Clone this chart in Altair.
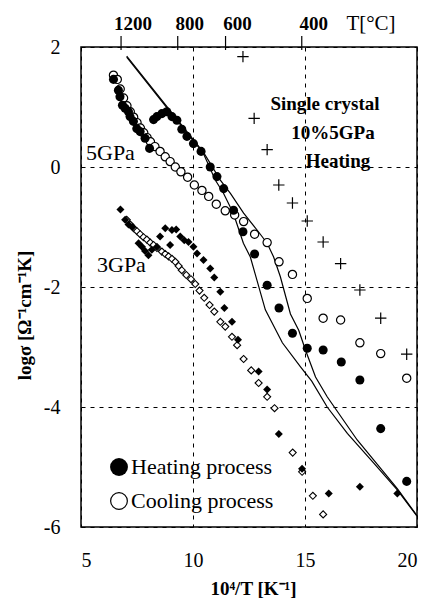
import altair as alt
import pandas as pd

FONT = "Liberation Serif"

# ---- data ----
heat5_x = [6.45, 6.67, 6.74, 6.85, 6.97, 7.12, 7.19, 7.34, 7.49, 7.64, 7.86, 8.06,
           8.24, 8.39, 8.61, 8.83, 9.06, 9.28, 9.5, 9.73, 10.02, 10.36, 10.77, 11.07,
           11.37, 11.81, 12.23, 12.75, 13.31, 13.84, 14.44, 15.1, 15.81, 16.62, 17.45,
           18.38, 19.54]
heat5_y = [1.46, 1.28, 1.17, 1.03, 0.98, 0.92, 0.84, 0.76, 0.64, 0.59, 0.48, 0.31,
           0.79, 0.84, 0.89, 0.92, 0.84, 0.78, 0.63, 0.51, 0.39, 0.26, 0.0, -0.16,
           -0.36, -0.72, -1.08, -1.45, -1.97, -2.35, -2.77, -3.02, -3.05, -3.25, -3.55,
           -4.36, -5.24]

cool5_x = [6.45, 6.62, 6.75, 6.9, 7.05, 7.2, 7.35, 7.5, 7.65, 7.8, 7.95, 8.1, 8.3,
           8.53, 8.76, 8.98, 9.21, 9.46, 9.76, 10.06, 10.4, 10.7, 11.04, 11.44, 11.86,
           12.26, 12.75, 13.31, 13.84, 14.44, 15.1, 15.81, 16.59, 17.45, 18.38, 19.54]
cool5_y = [1.53, 1.46, 1.3, 1.15, 1.02, 0.92, 0.83, 0.74, 0.65, 0.57, 0.49, 0.42, 0.34,
           0.26, 0.17, 0.09, 0.0, -0.08, -0.17, -0.3, -0.39, -0.49, -0.62, -0.73, -0.8,
           -0.91, -1.12, -1.26, -1.58, -1.79, -2.19, -2.52, -2.55, -2.93, -3.11, -3.52]

heat3_x = [6.76, 6.97, 7.12, 7.3, 7.57, 7.72, 7.86, 8.01, 8.16, 8.39, 8.53, 8.76, 8.98,
           9.06, 9.25, 9.43, 9.61, 9.8, 10.02, 10.18, 10.47, 10.77, 10.95, 11.22, 11.4,
           11.74, 12.01, 12.93, 13.31, 13.83, 14.87, 16.06, 17.45, 19.12]
heat3_y = [-0.71, -0.88, -0.96, -1.0, -1.27, -1.33, -1.4, -1.47, -1.38, -1.33, -1.16,
           -1.02, -1.3, -1.05, -1.04, -1.16, -1.22, -1.25, -1.33, -1.44, -1.55, -1.69,
           -1.84, -2.08, -2.35, -2.58, -2.88, -3.41, -3.71, -4.45, -5.03, -5.44, -5.33,
           -5.44]

cool3_x = [7.04, 7.2, 7.35, 7.5, 7.64, 7.79, 7.94, 8.09, 8.24, 8.39, 8.61, 8.76, 8.91,
           9.06, 9.21, 9.36, 9.5, 9.7, 9.91, 10.1, 10.29, 10.5, 10.74, 10.95, 11.22,
           11.44, 11.74, 11.97, 12.26, 12.6, 12.93, 13.31, 13.64, 14.45, 14.87, 15.35,
           15.81]
cool3_y = [-0.88, -0.96, -1.02, -1.07, -1.12, -1.17, -1.21, -1.26, -1.3, -1.35, -1.41,
           -1.45, -1.49, -1.53, -1.58, -1.65, -1.72, -1.8, -1.87, -1.95, -2.06, -2.18,
           -2.3, -2.41, -2.58, -2.66, -2.83, -2.97, -3.2, -3.39, -3.6, -3.83, -4.02,
           -4.76, -5.08, -5.48, -5.79]

cross_x = [12.23, 12.73, 13.31, 13.83, 14.44, 15.1, 15.81, 16.59, 17.45, 18.38, 19.54]
cross_y = [1.84, 0.81, 0.29, -0.3, -0.6, -0.9, -1.25, -1.61, -2.05, -2.52, -3.12]

lineA_x = [7.04, 9.21, 10.46, 11.0, 11.35, 11.8, 12.25, 12.56, 13.23, 13.99, 14.8,
           15.3, 15.99, 16.89, 18.08, 19.12, 20.0]
lineA_y = [1.83, 0.81, 0.23, -0.22, -0.43, -0.77, -1.27, -1.5, -2.38, -2.93, -3.33,
           -3.57, -4.0, -4.44, -4.94, -5.38, -5.82]
lineB_x = [7.04, 9.21, 10.46, 10.77, 11.22, 11.67, 12.26, 12.86, 13.31, 13.6, 13.9,
           14.35, 14.72, 15.02, 15.47, 15.99, 17.33, 19.12, 20.0]
lineB_y = [1.85, 0.83, 0.25, 0.06, -0.22, -0.44, -0.77, -1.05, -1.27, -1.5, -1.83,
           -2.45, -2.72, -3.05, -3.5, -3.83, -4.55, -5.36, -5.81]

top_temps_c = [1200, 800, 600, 400]
x_ticks = [5, 10, 15, 20]
y_ticks = [2, 0, -2, -4, -6]
legend_labels = ["Heating process", "Cooling process"]

# ---- scales / axes (same definition in every layer) ----
xs = alt.Scale(domain=[5, 20], nice=False, zero=False)
ys = alt.Scale(domain=[-6, 2], nice=False, zero=False)

axis_common = dict(
    grid=True, gridDash=[4, 5], gridColor="black", gridWidth=1, gridOpacity=1,
    domain=False, ticks=False, labelFont=FONT, labelFontSize=20, labelColor="black",
    titleFont=FONT, titleFontWeight="bold", titleColor="black",
)
x_axis = alt.Axis(
    values=x_ticks, labelPadding=23, title="10⁴/T [K⁻¹]", titleFontSize=19,
    titleX=172, titleY=61, titleBaseline="middle", titleAlign="center",
    **axis_common)
y_axis = alt.Axis(
    values=y_ticks, labelPadding=21, labelExpr="'' + datum.value",
    title="logσ [Ω⁻¹cm⁻¹K]", titleFontSize=19, titleX=-57, titleY=268,
    titleAngle=-90, titleBaseline="middle", titleAlign="center",
    **axis_common)

X = alt.X("x:Q", scale=xs, axis=x_axis, title="10⁴/T [K⁻¹]")
Y = alt.Y("y:Q", scale=ys, axis=y_axis, title="logσ [Ω⁻¹cm⁻¹K]")


def df(x, y):
    return pd.DataFrame({"x": x, "y": y})


lines_df = pd.concat([
    pd.DataFrame({"x": lineA_x, "y": lineA_y, "curve": "A", "i": range(len(lineA_x))}),
    pd.DataFrame({"x": lineB_x, "y": lineB_y, "curve": "B", "i": range(len(lineB_x))}),
])
lines = alt.Chart(lines_df).mark_line(color="black", strokeWidth=1.2).encode(
    x=X, y=Y, detail="curve:N", order="i:Q")

heat5 = alt.Chart(df(heat5_x, heat5_y)).mark_point(
    shape="circle", filled=True, color="black", size=82, opacity=1).encode(x=X, y=Y)
cool5 = alt.Chart(df(cool5_x, cool5_y)).mark_point(
    shape="circle", filled=True, fill="white", stroke="black", strokeWidth=1.2,
    size=68, opacity=1).encode(x=X, y=Y)
heat3 = alt.Chart(df(heat3_x, heat3_y)).mark_point(
    shape="diamond", filled=True, color="black", size=64, opacity=1).encode(x=X, y=Y)
cool3 = alt.Chart(df(cool3_x, cool3_y)).mark_point(
    shape="diamond", filled=True, fill="white", stroke="black", strokeWidth=1.1,
    size=50, opacity=1).encode(x=X, y=Y)
crosses = alt.Chart(df(cross_x, cross_y)).mark_point(
    shape="M-1,0L1,0M0,-1L0,1", filled=False, color="black", strokeWidth=1.2,
    size=130, opacity=1).encode(x=X, y=Y)

# ---- top temperature axis ----
top_df = pd.DataFrame({"T": top_temps_c})
top_df["x"] = 1e4 / (top_df["T"] + 273.15)
top_df["label"] = top_df["T"].astype(str)
top_ticks = alt.Chart(top_df).mark_rule(color="black", strokeWidth=1.2).encode(
    x=X, y=alt.value(-11), y2=alt.value(3))
top_labels = alt.Chart(top_df).mark_text(
    font=FONT, fontSize=19, fontWeight="bold", color="black", dx=12,
    align="center", baseline="middle").encode(x=X, y=alt.value(-23), text="label:N")
top_title = alt.Chart(pd.DataFrame({"t": ["T[°C]"]})).mark_text(
    font=FONT, fontSize=21, color="black", align="center", baseline="middle").encode(
    x=alt.value(290), y=alt.value(-23), text="t:N")


def label(text, x, y, size, weight="normal", align="left"):
    return alt.Chart(pd.DataFrame({"t": [text]})).mark_text(
        font=FONT, fontSize=size, fontWeight=weight, color="black",
        align=align, baseline="middle").encode(
        x=alt.value(x), y=alt.value(y), text="t:N")


ann = [
    label("5GPa", 5, 106, 22),
    label("3GPa", 16, 218, 22),
    label("Single crystal", 244, 57, 19, "bold", "center"),
    label("10%5GPa", 252, 86, 19, "bold", "center"),
    label("Heating", 257, 114, 19, "bold", "center"),
]

leg_heat_mark = alt.Chart(pd.DataFrame({"t": [legend_labels[0]]})).mark_point(
    shape="circle", filled=True, color="black", size=320, opacity=1).encode(
    x=alt.value(38), y=alt.value(420))
leg_cool_mark = alt.Chart(pd.DataFrame({"t": [legend_labels[1]]})).mark_point(
    shape="circle", filled=True, fill="white", stroke="black", strokeWidth=1.2,
    size=280, opacity=1).encode(x=alt.value(38), y=alt.value(454))
leg_heat_txt = label(legend_labels[0], 50, 420, 22)
leg_cool_txt = label(legend_labels[1], 50, 454, 22)

chart = alt.layer(
    lines, cool5, heat5, cool3, heat3, crosses,
    top_ticks, top_labels, top_title, *ann,
    leg_heat_mark, leg_cool_mark, leg_heat_txt, leg_cool_txt,
).properties(
    width=336, height=480,
    autosize=alt.AutoSizeParams(type="none"),
    padding={"left": 81, "top": 47, "right": 13, "bottom": 79},
    background="white",
).configure_view(stroke="black", strokeWidth=1.5)

chart.save("out.html", embed_options={"renderer": "svg", "actions": False})
